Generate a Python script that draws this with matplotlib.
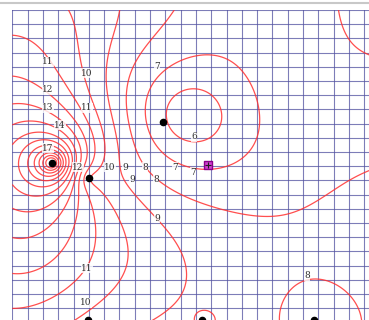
import numpy as np
import matplotlib
matplotlib.use("Agg")
import matplotlib.pyplot as plt

# map in grid cells, y counted downward from the top edge
station_x = [2.6, 9.85, 5.0, 4.95, 12.4, 19.72]
station_y = [10.77, 7.89, 11.83, 21.83, 21.83, 21.83]
target_x = [12.79]
target_y = [10.92]

# points on the iso-lines (x, y, level)
iso_pts = [
    # 11 upper
    (0.05, 1.55, 11), (2.33, 3.66, 11), (3.77, 5.28, 11), (4.88, 6.9, 11), (5.4, 8.45, 11),
    # 10 upper
    (3.25, 0.14, 10), (4.1, 2.11, 10), (4.88, 4.44, 10), (5.54, 6.34, 10), (6.0, 8.45, 10), (6.39, 11.06, 10),
    # 9
    (6.52, 0.0, 9), (6.52, 3.52, 9), (6.58, 6.34, 9), (6.9, 9.15, 9), (7.37, 11.06, 9), (7.82, 11.97, 9),
    (8.67, 13.38, 9), (9.46, 14.65, 9), (10.83, 16.55, 9), (11.29, 18.17, 9), (10.83, 20.07, 9), (9.98, 21.83, 9),
    # 10 lower
    (6.9, 13.38, 10), (7.56, 16.2, 10), (7.04, 19.0, 10), (5.73, 20.2, 10), (4.82, 20.63, 10), (3.77, 21.83, 10),
    # 11 lower
    (4.88, 18.17, 11), (2.46, 19.7, 11), (0.83, 21.83, 11),
    # left side, around the peak
    (0.0, 5.49, 12), (2.33, 5.63, 12), (0.0, 6.69, 13), (2.33, 6.9, 13), (0.0, 8.1, 14), (3.12, 8.1, 14),
    (0.0, 10.0, 15), (0.0, 11.5, 15), (0.0, 14.65, 14), (0.0, 16.2, 13), (0.0, 18.52, 12), (4.3, 11.06, 12),
    (2.33, 9.72, 17), (1.16, 10.77, 17), (2.6, 12.32, 17), (3.64, 10.92, 17),
    (2.07, 10.77, 20), (2.6, 10.2, 20), (2.6, 11.33, 20), (3.0, 10.77, 20),
    # 8
    (10.44, 0.0, 8), (9.0, 2.82, 8), (8.02, 5.63, 8), (7.82, 8.1, 8), (8.67, 11.06, 8), (9.39, 11.97, 8),
    (11.22, 12.82, 8), (14.23, 14.44, 8), (17.1, 15.0, 8), (20.8, 13.38, 8), (22.3, 11.8, 8), (23.3, 10.56, 8),
    (23.3, 3.52, 8), (20.7, 0.0, 8), (22.0, 1.3, 8),
    # 7
    (12.73, 2.96, 7), (9.46, 4.0, 7), (8.48, 6.34, 7), (8.67, 9.15, 7), (10.63, 11.06, 7), (11.81, 11.41, 7),
    (12.79, 10.92, 7), (15.14, 10.56, 7), (16.32, 9.15, 7), (16.78, 7.04, 7), (15.86, 4.58, 7), (14.55, 3.31, 7),
    # between 7 and 8
    (15.5, 0.0, 7.5), (19.0, 3.5, 7.6), (20.0, 8.5, 7.7), (17.0, 12.8, 7.6), (13.5, 13.0, 7.7), (14.0, 12.2, 7.5),
    (18.8, 6.34, 7.5),
    # between 6 and 7
    (8.9, 7.46, 6.5), (14.4, 7.3, 6.5), (11.7, 4.5, 6.5), (11.8, 10.2, 6.5),
    # 6 and the low inside
    (9.98, 7.46, 6), (13.12, 7.46, 6), (11.55, 5.77, 6), (11.88, 9.08, 6), (10.44, 6.34, 6), (12.66, 8.66, 6),
    (12.66, 6.2, 6), (10.5, 8.7, 6), (11.55, 7.46, 5.2), (10.8, 7.4, 5.5), (12.3, 7.5, 5.5),
    (11.55, 6.7, 5.5), (11.6, 8.2, 5.5),
    # bottom right ring
    (17.5, 21.83, 8), (22.7, 21.83, 8), (20.1, 19.15, 8), (18.28, 19.86, 8), (21.94, 19.86, 8), (20.1, 22.0, 7.4),
    # small ring at the bottom
    (12.66, 21.83, 9.4), (12.2, 21.7, 9), (13.12, 21.7, 9), (12.66, 21.34, 9), (12.0, 20.5, 8.8),
    # in between
    (15.5, 19.7, 8.6), (18.8, 16.9, 8.4), (23.3, 13.5, 8.3), (21.5, 16.0, 8.35), (22.7, 0.14, 8.3),
    (0.0, 0.0, 10.6),
]

label_x = [2.33, 4.88, 2.33, 2.33, 4.88, 3.12, 2.33, 4.3, 6.39, 7.37, 8.67, 10.63, 11.81,
           7.82, 9.39, 9.46, 4.88, 4.82, 9.46, 11.88, 19.26]
label_y = [3.66, 4.44, 5.63, 6.9, 6.9, 8.1, 9.72, 11.06, 11.06, 11.06, 11.06, 11.06, 11.41,
           11.97, 11.97, 14.65, 18.17, 20.63, 4.0, 8.94, 18.73]
label_txt = ["11", "10", "12", "13", "11", "14", "17", "12", "10", "9", "8", "7", "7",
             "9", "8", "9", "11", "10", "7", "6", "8"]


def design(x, y):
    cols = [np.ones_like(x), x, y]
    rA = np.hypot(x - station_x[0], y - station_y[0])
    cols.append(np.log(np.hypot(rA, 0.35)))
    rC = np.hypot(x - station_x[2], y - station_y[2])
    cols.append(np.log(np.hypot(rC, 0.6)))
    for cx, cy, w in [(12.6, 7.0, 5.5), (11.55, 7.46, 3.2), (11.55, 7.46, 1.5),
                      (20.1, 22.0, 2.5), (12.66, 21.9, 0.6)]:
        cols.append(np.exp(-((x - cx) ** 2 + (y - cy) ** 2) / (2 * w * w)))
    for cx in range(0, 25, 6):
        for cy in range(0, 25, 6):
            cols.append(np.exp(-((x - cx) ** 2 + (y - cy) ** 2) / (2 * 4.0 ** 2)))
    return np.stack(cols, axis=-1)


px = np.array([p[0] for p in iso_pts], float)
py = np.array([p[1] for p in iso_pts], float)
pv = np.array([p[2] for p in iso_pts], float)
# the rings round the low count more
wt = np.where(pv < 6.6, 3.0, np.where((pv <= 8.0) & (px > 8.0), 2.0, 1.0))
M = design(px, py) * wt[:, None]
ridge = np.full(M.shape[1], 0.3)
ridge[:10] = 1e-6
coef = np.linalg.solve(M.T @ M + np.diag(ridge), M.T @ (pv * wt))

gx = np.linspace(0, 24, 480)
gy = np.linspace(0, 23, 460)
X, Y = np.meshgrid(gx, gy)
Z = design(X, Y) @ coef

fig = plt.figure(figsize=(3.69, 3.2), dpi=100)
ax = fig.add_axes([12.3 / 369, 1 - (10 + 23 * 14.2) / 320, 24 * 15.3 / 369, 23 * 14.2 / 320])
ax.set_xlim(0, 24)
ax.set_ylim(23, 0)
ax.set_xticks(np.arange(0, 25))
ax.set_yticks(np.arange(0, 24))
ax.tick_params(length=0, labelbottom=False, labelleft=False)
for s in ax.spines.values():
    s.set_visible(False)
ax.grid(True, color="#5252a0", linewidth=0.8, alpha=0.75)
ax.set_axisbelow(True)

ax.contour(X, Y, Z, levels=np.arange(6, 22), colors="#ff3030", linewidths=0.9, alpha=0.85)

ax.scatter(station_x, station_y, s=20, color="black", zorder=5)
ax.scatter(target_x, target_y, s=40, marker="s", color="#d040d0", edgecolor="#8a008a", zorder=6)
ax.scatter(target_x, target_y, s=20, marker="+", color="#202020", linewidths=0.8, zorder=7)

for x, y, t in zip(label_x, label_y, label_txt):
    ax.text(x, y, t, fontsize=6.5, family="DejaVu Serif", color="#303030", ha="center", va="center",
            bbox=dict(facecolor="white", edgecolor="none", pad=0.3, alpha=0.8), zorder=4)

fig.add_artist(plt.Line2D([0, 1], [1 - 3 / 320, 1 - 3 / 320], color="#c8c8c8", linewidth=1.5))
fig.savefig("out.png", dpi=100, facecolor="white")
